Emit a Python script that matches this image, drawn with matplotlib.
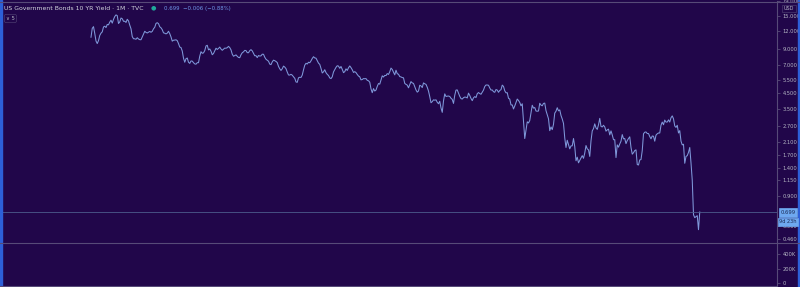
import numpy as np
import matplotlib
matplotlib.use("Agg")
import matplotlib.pyplot as plt
import matplotlib.ticker as mticker
from matplotlib.patches import Rectangle

# US 10Y yield, monthly, Jan 1980 .. Aug 2020 (%)
yields = [
    10.80, 12.41, 12.75, 11.47, 10.18, 9.78, 10.25, 11.10, 11.51, 11.75, 12.68, 12.84,   # 1980
    12.57, 13.19, 13.12, 13.68, 14.10, 13.47, 14.28, 14.94, 15.32, 15.15, 13.39, 13.72,  # 1981
    14.59, 14.43, 13.86, 13.87, 13.62, 14.30, 13.95, 13.06, 12.34, 10.91, 10.55, 10.54,  # 1982
    10.46, 10.72, 10.51, 10.40, 10.38, 10.85, 11.38, 11.85, 11.65, 11.54, 11.69, 11.83,  # 1983
    11.67, 11.84, 12.32, 12.63, 13.41, 13.56, 13.36, 12.72, 12.52, 12.16, 11.57, 11.50,  # 1984
    11.38, 11.51, 11.86, 11.43, 10.85, 10.16, 10.31, 10.33, 10.37, 10.24, 9.78, 9.26,    # 1985
    9.19, 8.70, 7.78, 7.30, 7.71, 7.80, 7.30, 7.17, 7.45, 7.43, 7.25, 7.11,              # 1986
    7.08, 7.25, 7.25, 8.02, 8.61, 8.40, 8.45, 8.76, 9.42, 9.52, 8.86, 8.99,              # 1987
    8.67, 8.21, 8.37, 8.72, 9.09, 8.92, 9.06, 9.26, 8.98, 8.80, 8.96, 9.11,              # 1988
    9.09, 9.17, 9.36, 9.18, 8.86, 8.28, 8.02, 8.11, 8.19, 8.01, 7.87, 7.84,              # 1989
    8.21, 8.47, 8.59, 8.79, 8.76, 8.48, 8.47, 8.75, 8.89, 8.72, 8.39, 8.08,              # 1990
    8.09, 7.85, 8.11, 8.04, 8.07, 8.28, 8.27, 7.90, 7.65, 7.53, 7.42, 7.09,              # 1991
    7.03, 7.34, 7.54, 7.48, 7.39, 7.26, 6.84, 6.59, 6.42, 6.59, 6.87, 6.77,              # 1992
    6.60, 6.26, 5.98, 5.97, 6.04, 5.96, 5.81, 5.68, 5.36, 5.33, 5.72, 5.77,              # 1993
    5.75, 5.97, 6.48, 6.97, 7.18, 7.10, 7.30, 7.24, 7.46, 7.74, 7.96, 7.81,              # 1994
    7.78, 7.47, 7.20, 7.06, 6.63, 6.17, 6.28, 6.49, 6.20, 6.04, 5.93, 5.71,              # 1995
    5.65, 5.81, 6.27, 6.51, 6.74, 6.91, 6.87, 6.64, 6.83, 6.53, 6.20, 6.30,              # 1996
    6.58, 6.42, 6.69, 6.89, 6.71, 6.49, 6.22, 6.30, 6.21, 6.03, 5.88, 5.81,              # 1997
    5.54, 5.57, 5.65, 5.64, 5.65, 5.50, 5.46, 5.34, 4.81, 4.53, 4.83, 4.65,              # 1998
    4.72, 5.00, 5.23, 5.18, 5.54, 5.90, 5.79, 5.94, 5.92, 6.11, 6.03, 6.28,              # 1999
    6.66, 6.52, 6.26, 5.99, 6.44, 6.10, 6.05, 5.83, 5.80, 5.74, 5.72, 5.24,              # 2000
    5.16, 5.10, 4.89, 5.14, 5.39, 5.28, 5.24, 4.97, 4.73, 4.57, 4.65, 5.09,              # 2001
    5.04, 4.91, 5.28, 5.21, 5.16, 4.93, 4.65, 4.26, 3.87, 3.94, 4.05, 4.03,              # 2002
    4.05, 3.90, 3.81, 3.96, 3.57, 3.33, 3.98, 4.45, 4.27, 4.29, 4.30, 4.27,              # 2003
    4.15, 4.08, 3.83, 4.35, 4.72, 4.73, 4.50, 4.28, 4.13, 4.10, 4.19, 4.23,              # 2004
    4.22, 4.17, 4.50, 4.34, 4.14, 4.00, 4.18, 4.26, 4.20, 4.46, 4.54, 4.47,              # 2005
    4.42, 4.57, 4.72, 4.99, 5.11, 5.11, 5.09, 4.88, 4.72, 4.73, 4.60, 4.56,              # 2006
    4.76, 4.72, 4.56, 4.69, 4.75, 5.10, 5.00, 4.67, 4.52, 4.53, 4.15, 4.10,              # 2007
    3.74, 3.74, 3.51, 3.68, 3.88, 4.10, 4.01, 3.89, 3.69, 3.81, 2.93, 2.21,              # 2008
    2.52, 2.87, 2.82, 2.93, 3.29, 3.72, 3.56, 3.59, 3.40, 3.39, 3.40, 3.84,              # 2009
    3.73, 3.69, 3.83, 3.85, 3.42, 3.20, 3.01, 2.50, 2.65, 2.54, 2.76, 3.29,              # 2010
    3.39, 3.58, 3.41, 3.46, 3.17, 3.00, 2.80, 2.23, 1.92, 2.15, 2.01, 1.88,              # 2011
    1.97, 1.97, 2.21, 1.95, 1.56, 1.65, 1.51, 1.57, 1.63, 1.69, 1.62, 1.76,              # 2012
    1.98, 1.88, 1.85, 1.67, 2.13, 2.49, 2.58, 2.78, 2.61, 2.55, 2.74, 3.03,              # 2013
    2.67, 2.65, 2.72, 2.65, 2.48, 2.53, 2.56, 2.34, 2.49, 2.34, 2.17, 2.17,              # 2014
    1.64, 2.00, 1.93, 2.03, 2.12, 2.35, 2.20, 2.21, 2.04, 2.14, 2.21, 2.27,              # 2015
    1.92, 1.73, 1.77, 1.83, 1.85, 1.47, 1.46, 1.58, 1.59, 1.83, 2.38, 2.44,              # 2016
    2.45, 2.39, 2.39, 2.28, 2.20, 2.30, 2.29, 2.12, 2.33, 2.38, 2.41, 2.41,              # 2017
    2.72, 2.86, 2.74, 2.95, 2.86, 2.86, 2.96, 2.86, 3.06, 3.15, 3.01, 2.69,              # 2018
    2.63, 2.72, 2.41, 2.50, 2.12, 2.00, 2.02, 1.50, 1.67, 1.69, 1.78, 1.92,              # 2019
    1.51, 1.15, 0.67, 0.64, 0.65, 0.66, 0.53, 0.699,                                     # 2020
]

price_ticks = [0.46, 0.56, 0.9, 1.15, 1.4, 1.7, 2.1, 2.7, 3.5, 4.5, 5.5, 7.0, 9.0, 12.0, 15.0, 19.0]
volume_ticks = [0, 200000, 400000]
last_value = 0.699

bg = "#21064a"
line_col = "#7f98da"
grid_col = "#574a78"
txt_col = "#b4b6c4"

fig = plt.figure(figsize=(8, 2.87), dpi=100, facecolor=bg)
ax = fig.add_axes([0, 45 / 287, 777 / 800, 241 / 287], facecolor=bg)
axv = fig.add_axes([0, 1 / 287, 777 / 800, 43 / 287], facecolor=bg)

x = np.arange(len(yields))
ax.plot(x, yields, color=line_col, lw=0.75)
ax.axhline(last_value, color="#4d5b8c", lw=0.6)

ax.set_yscale("log")
ax.set_ylim(0.437, 19.05)
ax.set_xlim(-72.8, 548.8)
ax.yaxis.tick_right()
ax.yaxis.set_major_locator(mticker.FixedLocator(price_ticks))
ax.yaxis.set_minor_locator(mticker.NullLocator())
ax.yaxis.set_major_formatter(mticker.FuncFormatter(lambda v, p: f"{v:.3f}"))
ax.set_xticks([])

axv.set_xlim(-72.8, 548.8)
axv.set_ylim(-41000, 552000)
axv.yaxis.tick_right()
axv.set_yticks(volume_ticks)
axv.yaxis.set_major_formatter(mticker.FuncFormatter(lambda v, p: "0" if v == 0 else f"{v / 1000:.0f}K"))
axv.set_xticks([])

for a in (ax, axv):
    a.tick_params(axis="y", which="both", colors=grid_col, labelcolor=txt_col,
                  labelsize=3.7, length=2.5, width=0.6, pad=1.5)
    for s in ("left", "bottom", "top"):
        a.spines[s].set_visible(False)
    a.spines["right"].set_color(grid_col)
    a.spines["right"].set_linewidth(0.8)

# pane separators / borders
fig.add_artist(plt.Line2D([0, 1], [1 - 1.5 / 287, 1 - 1.5 / 287], color=grid_col, lw=0.8))
fig.add_artist(plt.Line2D([0, 1], [44.5 / 287, 44.5 / 287], color=grid_col, lw=0.8))
fig.add_artist(plt.Line2D([0, 777 / 800], [1 / 287, 1 / 287], color=grid_col, lw=0.8))
fig.add_artist(Rectangle((0, 0), 1.5 / 800, 1, transform=fig.transFigure, color="#2d5fd8"))
fig.add_artist(Rectangle((1 - 2 / 800, 0), 2 / 800, 1, transform=fig.transFigure, color="#2d5fd8"))

# header
fig.text(4 / 800, 1 - 8 / 287, "US Government Bonds 10 YR Yield · 1M · TVC", color="#d1d4dc",
         fontsize=4.4, va="center", ha="left")
fig.text(153 / 800, 1 - 8 / 287, "●", color="#1fa89a", fontsize=4.5, va="center", ha="center")
fig.text(164 / 800, 1 - 8.3 / 287, "0.699  \u22120.006 (\u22120.88%)", color="#6f97e6",
         fontsize=3.9, va="center", ha="left")
fig.text(6 / 800, 1 - 18.5 / 287, "\u2228 5", color=txt_col, fontsize=3.8, va="center", ha="left",
         bbox=dict(boxstyle="round,pad=0.3", fc=bg, ec="#4a3b6e", lw=0.5))
fig.text(789 / 800, 1 - 8.5 / 287, "USD", color=txt_col, fontsize=3.5, va="center", ha="center",
         bbox=dict(boxstyle="square,pad=0.3", fc=bg, ec="#4a3b6e", lw=0.5))

# last price labels
fig.text(788 / 800, 1 - 212.5 / 287, "0.699", color="#1b2a55", fontsize=3.8, va="center", ha="center",
         bbox=dict(boxstyle="square,pad=0.35", fc="#6ea8f0", ec="#6ea8f0", lw=0.5))
fig.text(788 / 800, 1 - 221.5 / 287, "9d 23h", color="#1b2a55", fontsize=3.6, va="center", ha="center",
         bbox=dict(boxstyle="square,pad=0.3", fc="#6ea8f0", ec="#6ea8f0", lw=0.5))

fig.savefig("out.png", dpi=100, facecolor=bg)
